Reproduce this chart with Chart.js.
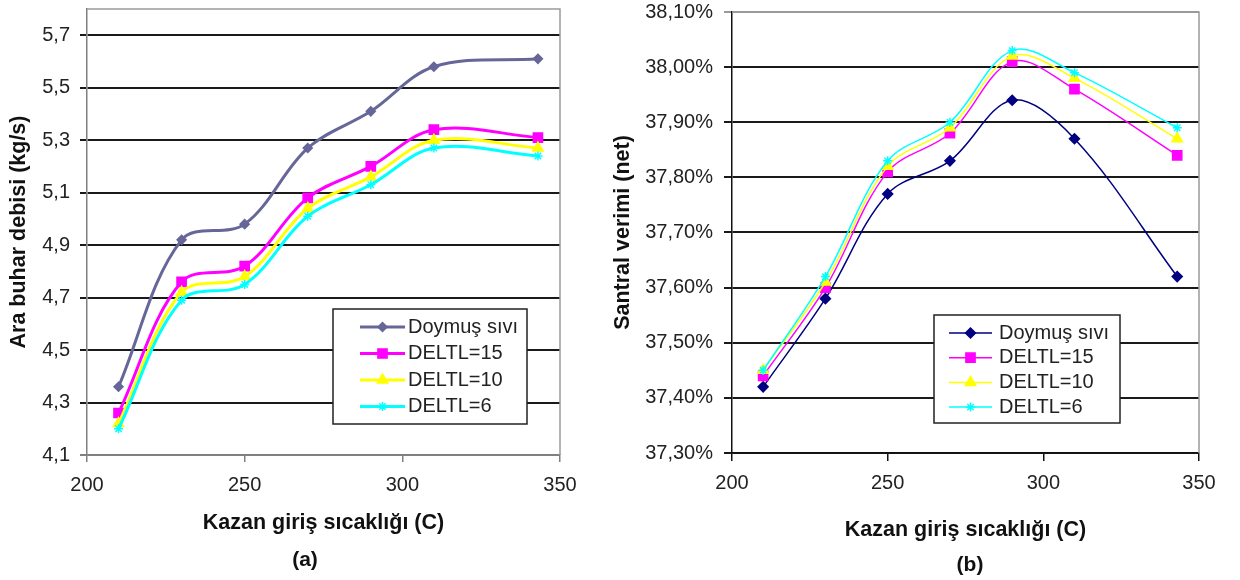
<!DOCTYPE html>
<html>
<head>
<meta charset="utf-8">
<script src="https://cdn.jsdelivr.net/npm/chart.js@4.4.1/dist/chart.umd.min.js"></script>
<style>
  html, body { margin: 0; padding: 0; background: #fff; }
  #wrapA { position: absolute; left: 0; top: 0; }
  #wrapB { position: absolute; left: 610px; top: 0; }
</style>
</head>
<body>
<div id="wrapA"><canvas id="chartA" width="610" height="580"></canvas></div>
<div id="wrapB"><canvas id="chartB" width="630" height="580"></canvas></div>
<script>
// =====================
// Data
// =====================
const temps = [210, 230, 250, 270, 290, 310, 343];
const seriesNames = ['Doymuş sıvı', 'DELTL=15', 'DELTL=10', 'DELTL=6'];

// (a) Ara buhar debisi (kg/s)
const flowDoymus = [4.36, 4.92, 4.98, 5.27, 5.41, 5.58, 5.61];
const flowD15    = [4.26, 4.76, 4.82, 5.08, 5.20, 5.34, 5.31];
const flowD10    = [4.22, 4.72, 4.78, 5.04, 5.16, 5.30, 5.27];
const flowD6     = [4.20, 4.69, 4.75, 5.01, 5.13, 5.27, 5.24];

// (b) Santral verimi (net), in %
const effDoymus = [37.42, 37.58, 37.77, 37.83, 37.94, 37.87, 37.62];
const effD15    = [37.44, 37.60, 37.81, 37.88, 38.01, 37.96, 37.84];
const effD10    = [37.45, 37.61, 37.82, 37.89, 38.02, 37.98, 37.87];
const effD6     = [37.45, 37.62, 37.83, 37.90, 38.03, 37.99, 37.89];

const xTicks = [200, 250, 300, 350];
const flowTicks = [4.1, 4.3, 4.5, 4.7, 4.9, 5.1, 5.3, 5.5, 5.7];
const effTicks = [37.3, 37.4, 37.5, 37.6, 37.7, 37.8, 37.9, 38.0, 38.1];

const FONT = '"Liberation Sans", Arial, sans-serif';
Chart.defaults.font.family = FONT;

// =====================
// Helpers
// =====================
const toPoints = arr => temps.map((x, i) => ({ x, y: arr[i] }));

function makeDataset(i, values, color, style, radius, lineWidth) {
  return {
    label: seriesNames[i],
    data: toPoints(values),
    showLine: true,
    borderColor: color,
    borderWidth: lineWidth,
    tension: 0.35,
    pointStyle: style,
    pointRadius: radius,
    pointBackgroundColor: color,
    pointBorderColor: color,
    pointBorderWidth: 1.5,
    order: 4 - i
  };
}

// gray frame on top/right of the plot
const framePlugin = {
  id: 'frame',
  beforeDatasetsDraw(chart, args, o) {
    const { ctx, chartArea: a } = chart;
    ctx.save();
    ctx.strokeStyle = o.color;
    ctx.lineWidth = 1.5;
    ctx.beginPath();
    ctx.moveTo(a.left, a.top);
    ctx.lineTo(a.right, a.top);
    ctx.lineTo(a.right, a.bottom);
    ctx.stroke();
    ctx.restore();
  }
};

// boxed legend inside the plot
const boxLegend = {
  id: 'boxLegend',
  afterDraw(chart, args, o) {
    const ctx = chart.ctx;
    ctx.save();
    ctx.fillStyle = '#fff';
    ctx.fillRect(o.x, o.y, o.w, o.h);
    ctx.strokeStyle = '#222';
    ctx.lineWidth = 1.5;
    ctx.strokeRect(o.x, o.y, o.w, o.h);
    ctx.font = '20px ' + FONT;
    ctx.textBaseline = 'middle';
    chart.data.datasets.forEach((ds, i) => {
      const y = o.rowY + i * o.rowGap;
      ctx.strokeStyle = ds.borderColor;
      ctx.lineWidth = ds.borderWidth;
      ctx.beginPath();
      ctx.moveTo(o.lineX0, y);
      ctx.lineTo(o.lineX1, y);
      ctx.stroke();
      ctx.fillStyle = ds.pointBackgroundColor;
      ctx.strokeStyle = ds.pointBorderColor;
      ctx.lineWidth = ds.pointBorderWidth;
      Chart.helpers.drawPoint(ctx, {
        pointStyle: ds.pointStyle, radius: ds.pointRadius,
        borderWidth: ds.pointBorderWidth, rotation: 0
      }, (o.lineX0 + o.lineX1) / 2, y);
      ctx.fillStyle = '#222';
      ctx.fillText(ds.label, o.textX, y);
    });
    ctx.restore();
  }
};

// "(a)" / "(b)" caption under the chart
const captionPlugin = {
  id: 'caption',
  afterDraw(chart, args, o) {
    const ctx = chart.ctx;
    ctx.save();
    ctx.font = 'bold 21px ' + FONT;
    ctx.fillStyle = '#111';
    ctx.textAlign = 'center';
    ctx.textBaseline = 'middle';
    ctx.fillText(o.text, o.x, o.y);
    ctx.restore();
  }
};

function buildOptions(cfg) {
  return {
    responsive: false,
    animation: false,
    layout: { padding: cfg.padding },
    plugins: {
      legend: { display: false },
      tooltip: { enabled: false },
      frame: { color: '#9a9a9a' },
      boxLegend: cfg.legend,
      caption: cfg.caption
    },
    scales: {
      x: {
        type: 'linear', min: 200, max: 350,
        afterBuildTicks: s => { s.ticks = xTicks.map(v => ({ value: v })); },
        afterFit: s => { s.height = cfg.xHeight; s.paddingLeft = 0; s.paddingRight = 0; },
        grid: { drawOnChartArea: false, drawTicks: true, tickLength: cfg.tickLen, color: cfg.axisColor, lineWidth: 1.5 },
        border: { color: cfg.axisColor, width: 1.5 },
        ticks: { font: { size: 20 }, color: '#222', padding: cfg.xPad, maxRotation: 0, autoSkip: false },
        title: {
          display: true, text: 'Kazan giriş sıcaklığı (C)', color: '#111',
          font: { size: 21.5, weight: 'bold' }, padding: { top: 0, bottom: 0 }
        }
      },
      y: {
        type: 'linear', min: cfg.yMin, max: cfg.yMax,
        afterBuildTicks: s => { s.ticks = cfg.yTicks.map(v => ({ value: v })); },
        afterFit: s => { s.width = cfg.yWidth; s.paddingTop = 0; s.paddingBottom = 0; },
        grid: {
          drawTicks: true, tickLength: cfg.tickLen, lineWidth: 2,
          color: c => (c.tick && cfg.grayTicks.includes(c.tick.value)) ? cfg.grayColor : '#1a1a1a'
        },
        border: { color: cfg.axisColor, width: 1.5 },
        ticks: { font: { size: 20 }, color: '#222', padding: cfg.yPad, autoSkip: false, callback: cfg.fmt },
        title: {
          display: true, text: cfg.yTitle, color: '#111',
          font: { size: 21.5, weight: 'bold' }, padding: { top: cfg.yTitlePad, bottom: 0 }
        }
      }
    }
  };
}

// =====================
// (a) Ara buhar debisi
// =====================
new Chart(document.getElementById('chartA'), {
  type: 'scatter',
  data: {
    datasets: [
      makeDataset(0, flowDoymus, '#666699', 'rectRot', 4.5, 3),
      makeDataset(1, flowD15, '#ff00ff', 'rect', 6.5, 3),
      makeDataset(2, flowD10, '#ffff00', 'triangle', 6, 3),
      makeDataset(3, flowD6, '#00ffff', 'star', 4.5, 3)
    ]
  },
  options: buildOptions({
    padding: { left: 0, top: 9, right: 50, bottom: 44 },
    xHeight: 81, yWidth: 87, tickLen: 7, xPad: 11, yPad: 10, yTitlePad: 6,
    yMin: 4.1, yMax: 5.8, yTicks: flowTicks,
    grayTicks: [4.1], grayColor: '#808080', axisColor: '#808080',
    fmt: v => v.toFixed(1).replace('.', ','),
    yTitle: 'Ara buhar debisi (kg/s)',
    legend: { x: 333, y: 309, w: 194, h: 115, rowY: 327, rowGap: 26.5, lineX0: 360, lineX1: 405, textX: 408 },
    caption: { text: '(a)', x: 305, y: 560 }
  }),
  plugins: [framePlugin, boxLegend, captionPlugin]
});

// =====================
// (b) Santral verimi
// =====================
new Chart(document.getElementById('chartB'), {
  type: 'scatter',
  data: {
    datasets: [
      makeDataset(0, effDoymus, '#000080', 'rectRot', 5, 1.5),
      makeDataset(1, effD15, '#ff00ff', 'rect', 6.5, 1.5),
      makeDataset(2, effD10, '#ffff00', 'triangle', 6, 1.5),
      makeDataset(3, effD6, '#00ffff', 'star', 4.5, 1.5)
    ]
  },
  options: buildOptions({
    padding: { left: 0, top: 12, right: 41, bottom: 37 },
    xHeight: 90, yWidth: 122, tickLen: 8, xPad: 10, yPad: 11, yTitlePad: 0,
    yMin: 37.3, yMax: 38.1, yTicks: effTicks,
    grayTicks: [38.1], grayColor: '#9a9a9a', axisColor: '#111',
    fmt: v => v.toFixed(2).replace('.', ',') + '%',
    yTitle: 'Santral verimi (net)',
    legend: { x: 324, y: 315, w: 186, h: 108, rowY: 333, rowGap: 24.7, lineX0: 339, lineX1: 382, textX: 389 },
    caption: { text: '(b)', x: 360, y: 565 }
  }),
  plugins: [framePlugin, boxLegend, captionPlugin]
});
</script>
</body>
</html>
